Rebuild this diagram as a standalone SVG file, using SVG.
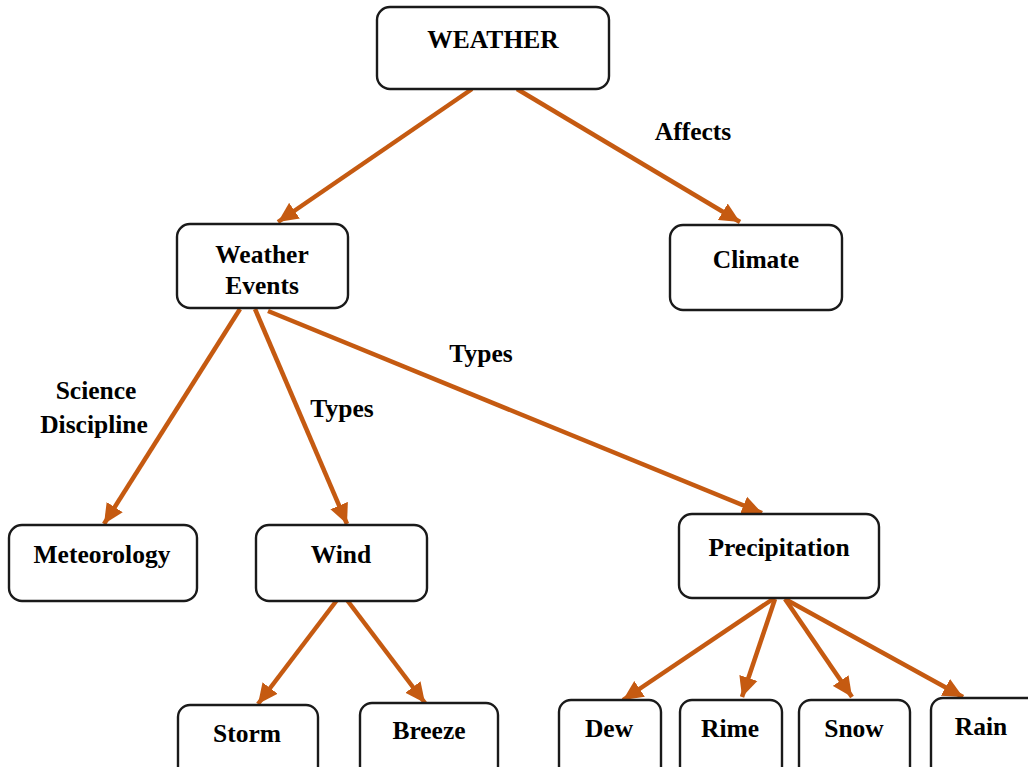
<svg xmlns="http://www.w3.org/2000/svg" width="1028" height="767" viewBox="0 0 1028 767">
  <style>
    .box { fill: #ffffff; stroke: #1a1a1a; stroke-width: 2.4; }
    .txt { font-family: "Liberation Serif", "Times New Roman", serif; font-weight: bold; font-size: 25.5px; fill: #000; text-anchor: middle; }
    .edge { stroke: #C55A11; stroke-width: 4.5; fill: none; marker-end: url(#arrow); }
  </style>
  <defs>
    <marker id="arrow" markerUnits="userSpaceOnUse" markerWidth="22" markerHeight="20" refX="20" refY="10" orient="auto">
      <path d="M0,0.5 L20,10 L0,19.5 Z" fill="#C55A11"/>
    </marker>
  </defs>
  <rect width="1028" height="767" fill="#ffffff"/>

  <g id="connectors">
    <line class="edge" x1="472" y1="89" x2="278" y2="222"/>
    <line class="edge" x1="517" y1="89" x2="740" y2="222"/>
    <line class="edge" x1="240" y1="309" x2="104" y2="524"/>
    <line class="edge" x1="255" y1="309" x2="347" y2="524"/>
    <line class="edge" x1="268" y1="311" x2="762" y2="513"/>
    <line class="edge" x1="337" y1="600" x2="258" y2="704"/>
    <line class="edge" x1="347" y1="600" x2="425" y2="703"/>
    <line class="edge" x1="773" y1="599" x2="623" y2="700"/>
    <line class="edge" x1="775" y1="599" x2="742" y2="697"/>
    <line class="edge" x1="785" y1="599" x2="852" y2="697"/>
    <line class="edge" x1="785" y1="599" x2="963" y2="697"/>
    <text class="txt" x="693" y="140">Affects</text>
    <text class="txt" x="96" y="399">Science</text>
    <text class="txt" x="94" y="433">Discipline</text>
    <text class="txt" x="342" y="417">Types</text>
    <text class="txt" x="481" y="362">Types</text>
  </g>

  <g id="weather">
    <rect class="box" x="377" y="7" width="232" height="82" rx="13"/>
    <text class="txt" x="493" y="48">WEATHER</text>
  </g>
  <g id="weather-events">
    <rect class="box" x="177" y="224" width="171" height="84" rx="13"/>
    <text class="txt" x="262" y="263">Weather</text>
    <text class="txt" x="262" y="294">Events</text>
  </g>
  <g id="climate">
    <rect class="box" x="670" y="225" width="172" height="85" rx="13"/>
    <text class="txt" x="756" y="268">Climate</text>
  </g>
  <g id="meteorology">
    <rect class="box" x="9" y="525" width="188" height="76" rx="13"/>
    <text class="txt" x="102" y="563">Meteorology</text>
  </g>
  <g id="wind">
    <rect class="box" x="256" y="525" width="171" height="76" rx="13"/>
    <text class="txt" x="341" y="563">Wind</text>
  </g>
  <g id="precipitation">
    <rect class="box" x="679" y="514" width="200" height="84" rx="13"/>
    <text class="txt" x="779" y="556">Precipitation</text>
  </g>
  <g id="storm">
    <rect class="box" x="178" y="705" width="140" height="80" rx="12"/>
    <text class="txt" x="247" y="742">Storm</text>
  </g>
  <g id="breeze">
    <rect class="box" x="360" y="703" width="138" height="80" rx="12"/>
    <text class="txt" x="429" y="739">Breeze</text>
  </g>
  <g id="dew">
    <rect class="box" x="559" y="700" width="102" height="80" rx="12"/>
    <text class="txt" x="609" y="737">Dew</text>
  </g>
  <g id="rime">
    <rect class="box" x="680" y="700" width="102" height="80" rx="12"/>
    <text class="txt" x="730" y="737">Rime</text>
  </g>
  <g id="snow">
    <rect class="box" x="799" y="700" width="111" height="80" rx="12"/>
    <text class="txt" x="854" y="737">Snow</text>
  </g>
  <g id="rain">
    <rect class="box" x="931" y="698" width="110" height="80" rx="12"/>
    <text class="txt" x="981" y="735">Rain</text>
  </g>
</svg>
